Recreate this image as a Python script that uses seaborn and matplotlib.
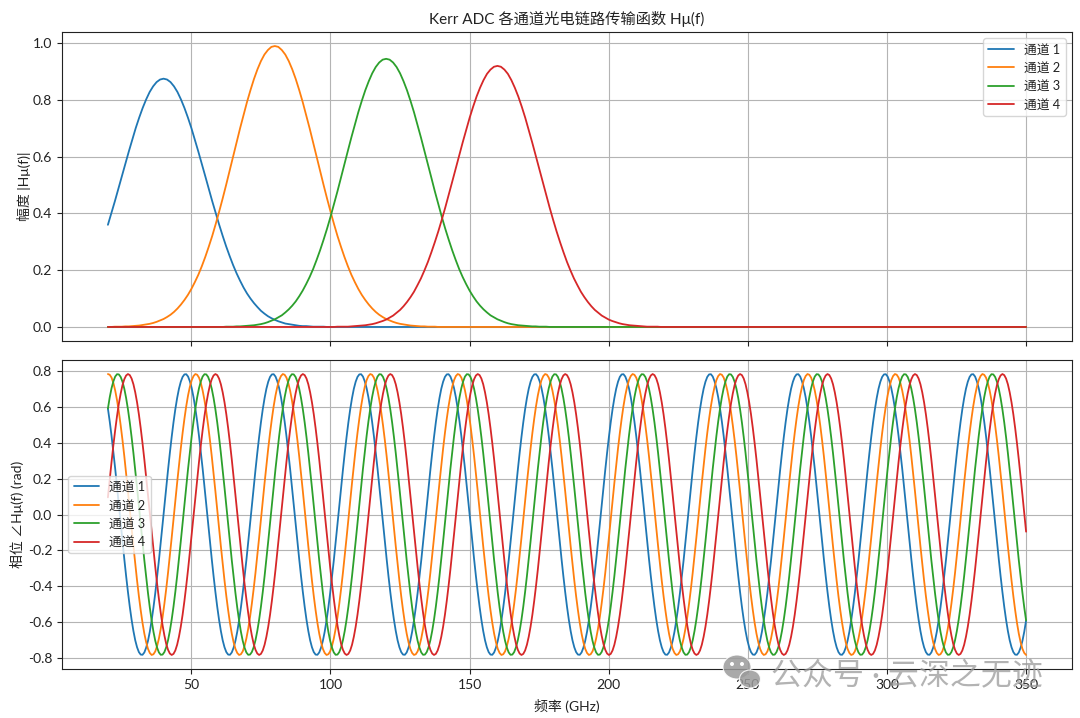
import numpy as np
import pandas as pd
import matplotlib
matplotlib.use("Agg")
import matplotlib.pyplot as plt
from matplotlib.patches import Ellipse
from matplotlib.transforms import IdentityTransform
import seaborn as sns

CHANNELS = ["通道 1", "通道 2", "通道 3", "通道 4"]
TITLE = "Kerr ADC 各通道光电链路传输函数 Hμ(f)"
YLABEL_TOP = "幅度 |Hμ(f)|"
YLABEL_BOTTOM = "相位 ∠Hμ(f) (rad)"
XLABEL = "频率 (GHz)"
WATERMARK = "公众号 · 云深之无迹"

amp_freq = np.linspace(20, 350, 265)
amp_1 = [.360,.401,.443,.487,.531,.575,.618,.660,.701,.738,.772,.802,.828,.848,.863,.872,.875,
 .872,.863,.848,.828,.802,.772,.738,.701,.660,.618,.575,.531,.487,.443,.401,.360,.321,.284,.250,.218,.189,.163,.139,.118,.100,.084,.070,.057,.047,.038,.031,.025,.020,.016,.012,.010,.008,.006,.004,.003,.003,.002,.001,.001,.001,.001,0,0] + [0.0] * 200
amp_2 = [0,0,.001,.001,.001,.002,.002,.003,.004,.005,.007,.009,.011,.014,.018,.023,.028,.035,.043,.053,.065,.079,.095,.113,.134,.158,.184,.214,.247,.283,.321,.363,.407,.453,.501,.551,.600,.650,.700,.747,.793,.835,.874,.908,.937,.960,.976,.987,.990,
 .987,.976,.960,.937,.908,.874,.835,.793,.747,.700,.650,.600,.551,.501,.453,.407,.363,.321,.283,.247,.214,.184,.158,.134,.113,.095,.079,.065,.053,.043,.035,.028,.023,.018,.014,.011,.009,.007,.005,.004,.003,.002,.002,.001,.001,.001,0,0] + [0.0] * 168
amp_3 = [0.0] * 32 + [0,0,.001,.001,.001,.002,.002,.003,.004,.005,.006,.008,.010,.013,.017,.022,.027,.034,.041,.051,.062,.075,.090,.108,.128,.151,.176,.204,.236,.270,.307,.346,.388,.433,.478,.526,.573,.621,.668,.713,.757,.797,.834,.866,.894,.916,.932,.942,.945,
 .942,.932,.916,.894,.866,.834,.797,.757,.713,.668,.621,.573,.526,.478,.433,.388,.346,.307,.270,.236,.204,.176,.151,.128,.108,.090,.075,.062,.051,.041,.034,.027,.022,.017,.013,.010,.008,.006,.005,.004,.003,.002,.002,.001,.001,.001,0,0] + [0.0] * 136
amp_4 = [0.0] * 64 + [0,0,.001,.001,.001,.001,.002,.003,.004,.005,.006,.008,.010,.013,.017,.021,.026,.033,.040,.050,.060,.073,.088,.105,.124,.147,.171,.199,.229,.263,.299,.337,.378,.421,.466,.512,.558,.604,.650,.694,.737,.776,.812,.843,.870,.892,.907,.917,.920,
 .917,.907,.892,.870,.843,.812,.776,.737,.694,.650,.604,.558,.512,.466,.421,.378,.337,.299,.263,.229,.199,.171,.147,.124,.105,.088,.073,.060,.050,.040,.033,.026,.021,.017,.013,.010,.008,.006,.005,.004,.003,.002,.001,.001,.001,.001,0,0] + [0.0] * 104

phase_freq = np.linspace(20, 350, 505)
phase_1 = [
 .592,.520,.439,.350,.256,.157,.055,-.048,-.150,-.249,-.344,-.433,-.515,-.588,-.651,-.703,-.742,-.769,-.783,-.784,-.771,-.744,-.706,-.655,-.592,-.520,-.439,-.350,-.256,-.157,-.055,.048,.150,.249,.344,.433,.515,.588,.651,.703,.742,.769,.783,.784,.771,.744,.706,.655,
 .592,.520,.439,.350,.256,.157,.055,-.048,-.150,-.249,-.344,-.433,-.515,-.588,-.651,-.703,-.742,-.769,-.783,-.784,-.771,-.744,-.706,-.655,-.592,-.520,-.439,-.350,-.256,-.157,-.055,.048,.150,.249,.344,.433,.515,.588,.651,.703,.742,.769,.783,.784,.771,.744,.706,.655,
 .592,.520,.439,.350,.256,.157,.055,-.048,-.150,-.249,-.344,-.433,-.515,-.588,-.651,-.703,-.742,-.769,-.783,-.784,-.771,-.744,-.706,-.655,-.592,-.520,-.439,-.350,-.256,-.157,-.055,.048,.150,.249,.344,.433,.515,.588,.651,.703,.742,.769,.783,.784,.771,.744,.706,.655,
 .592,.520,.439,.350,.256,.157,.055,-.048,-.150,-.249,-.344,-.433,-.515,-.588,-.651,-.703,-.742,-.769,-.783,-.784,-.771,-.744,-.706,-.655,-.592,-.520,-.439,-.350,-.256,-.157,-.055,.048,.150,.249,.344,.433,.515,.588,.651,.703,.742,.769,.783,.784,.771,.744,.706,.655,
 .592,.520,.439,.350,.256,.157,.055,-.048,-.150,-.249,-.344,-.433,-.515,-.588,-.651,-.703,-.742,-.769,-.783,-.784,-.771,-.744,-.706,-.655,-.592,-.520,-.439,-.350,-.256,-.157,-.055,.048,.150,.249,.344,.433,.515,.588,.651,.703,.742,.769,.783,.784,.771,.744,.706,.655,
 .592,.520,.439,.350,.256,.157,.055,-.048,-.150,-.249,-.344,-.433,-.515,-.588,-.651,-.703,-.742,-.769,-.783,-.784,-.771,-.744,-.706,-.655,-.592,-.520,-.439,-.350,-.256,-.157,-.055,.048,.150,.249,.344,.433,.515,.588,.651,.703,.742,.769,.783,.784,.771,.744,.706,.655,
 .592,.520,.439,.350,.256,.157,.055,-.048,-.150,-.249,-.344,-.433,-.515,-.588,-.651,-.703,-.742,-.769,-.783,-.784,-.771,-.744,-.706,-.655,-.592,-.520,-.439,-.350,-.256,-.157,-.055,.048,.150,.249,.344,.433,.515,.588,.651,.703,.742,.769,.783,.784,.771,.744,.706,.655,
 .592,.520,.439,.350,.256,.157,.055,-.048,-.150,-.249,-.344,-.433,-.515,-.588,-.651,-.703,-.742,-.769,-.783,-.784,-.771,-.744,-.706,-.655,-.592,-.520,-.439,-.350,-.256,-.157,-.055,.048,.150,.249,.344,.433,.515,.588,.651,.703,.742,.769,.783,.784,.771,.744,.706,.655,
 .592,.520,.439,.350,.256,.157,.055,-.048,-.150,-.249,-.344,-.433,-.515,-.588,-.651,-.703,-.742,-.769,-.783,-.784,-.771,-.744,-.706,-.655,-.592,-.520,-.439,-.350,-.256,-.157,-.055,.048,.150,.249,.344,.433,.515,.588,.651,.703,.742,.769,.783,.784,.771,.744,.706,.655,
 .592,.520,.439,.350,.256,.157,.055,-.048,-.150,-.249,-.344,-.433,-.515,-.588,-.651,-.703,-.742,-.769,-.783,-.784,-.771,-.744,-.706,-.655,-.592,-.520,-.439,-.350,-.256,-.157,-.055,.048,.150,.249,.344,.433,.515,.588,.651,.703,.742,.769,.783,.784,.771,.744,.706,.655,
 .592,.520,.439,.350,.256,.157,.055,-.048,-.150,-.249,-.344,-.433,-.515,-.588,-.651,-.703,-.742,-.769,-.783,-.784,-.771,-.744,-.706,-.655,-.592]
phase_2 = [
 .785,.781,.765,.735,.693,.639,.574,.499,.416,.326,.230,.130,.027,-.075,-.177,-.275,-.369,-.456,-.535,-.606,-.666,-.714,-.751,-.774,-.785,-.781,-.765,-.735,-.693,-.639,-.574,-.499,-.416,-.326,-.230,-.130,-.027,.075,.177,.275,.369,.456,.535,.606,.666,.714,.751,.774,
 .785,.781,.765,.735,.693,.639,.574,.499,.416,.326,.230,.130,.027,-.075,-.177,-.275,-.369,-.456,-.535,-.606,-.666,-.714,-.751,-.774,-.785,-.781,-.765,-.735,-.693,-.639,-.574,-.499,-.416,-.326,-.230,-.130,-.027,.075,.177,.275,.369,.456,.535,.606,.666,.714,.751,.774,
 .785,.781,.765,.735,.693,.639,.574,.499,.416,.326,.230,.130,.027,-.075,-.177,-.275,-.369,-.456,-.535,-.606,-.666,-.714,-.751,-.774,-.785,-.781,-.765,-.735,-.693,-.639,-.574,-.499,-.416,-.326,-.230,-.130,-.027,.075,.177,.275,.369,.456,.535,.606,.666,.714,.751,.774,
 .785,.781,.765,.735,.693,.639,.574,.499,.416,.326,.230,.130,.027,-.075,-.177,-.275,-.369,-.456,-.535,-.606,-.666,-.714,-.751,-.774,-.785,-.781,-.765,-.735,-.693,-.639,-.574,-.499,-.416,-.326,-.230,-.130,-.027,.075,.177,.275,.369,.456,.535,.606,.666,.714,.751,.774,
 .785,.781,.765,.735,.693,.639,.574,.499,.416,.326,.230,.130,.027,-.075,-.177,-.275,-.369,-.456,-.535,-.606,-.666,-.714,-.751,-.774,-.785,-.781,-.765,-.735,-.693,-.639,-.574,-.499,-.416,-.326,-.230,-.130,-.027,.075,.177,.275,.369,.456,.535,.606,.666,.714,.751,.774,
 .785,.781,.765,.735,.693,.639,.574,.499,.416,.326,.230,.130,.027,-.075,-.177,-.275,-.369,-.456,-.535,-.606,-.666,-.714,-.751,-.774,-.785,-.781,-.765,-.735,-.693,-.639,-.574,-.499,-.416,-.326,-.230,-.130,-.027,.075,.177,.275,.369,.456,.535,.606,.666,.714,.751,.774,
 .785,.781,.765,.735,.693,.639,.574,.499,.416,.326,.230,.130,.027,-.075,-.177,-.275,-.369,-.456,-.535,-.606,-.666,-.714,-.751,-.774,-.785,-.781,-.765,-.735,-.693,-.639,-.574,-.499,-.416,-.326,-.230,-.130,-.027,.075,.177,.275,.369,.456,.535,.606,.666,.714,.751,.774,
 .785,.781,.765,.735,.693,.639,.574,.499,.416,.326,.230,.130,.027,-.075,-.177,-.275,-.369,-.456,-.535,-.606,-.666,-.714,-.751,-.774,-.785,-.781,-.765,-.735,-.693,-.639,-.574,-.499,-.416,-.326,-.230,-.130,-.027,.075,.177,.275,.369,.456,.535,.606,.666,.714,.751,.774,
 .785,.781,.765,.735,.693,.639,.574,.499,.416,.326,.230,.130,.027,-.075,-.177,-.275,-.369,-.456,-.535,-.606,-.666,-.714,-.751,-.774,-.785,-.781,-.765,-.735,-.693,-.639,-.574,-.499,-.416,-.326,-.230,-.130,-.027,.075,.177,.275,.369,.456,.535,.606,.666,.714,.751,.774,
 .785,.781,.765,.735,.693,.639,.574,.499,.416,.326,.230,.130,.027,-.075,-.177,-.275,-.369,-.456,-.535,-.606,-.666,-.714,-.751,-.774,-.785,-.781,-.765,-.735,-.693,-.639,-.574,-.499,-.416,-.326,-.230,-.130,-.027,.075,.177,.275,.369,.456,.535,.606,.666,.714,.751,.774,
 .785,.781,.765,.735,.693,.639,.574,.499,.416,.326,.230,.130,.027,-.075,-.177,-.275,-.369,-.456,-.535,-.606,-.666,-.714,-.751,-.774,-.785]
phase_3 = [
 .592,.655,.706,.744,.771,.784,.783,.769,.742,.703,.651,.588,.515,.433,.344,.249,.150,.048,-.055,-.157,-.256,-.350,-.439,-.520,-.592,-.655,-.706,-.744,-.771,-.784,-.783,-.769,-.742,-.703,-.651,-.588,-.515,-.433,-.344,-.249,-.150,-.048,.055,.157,.256,.350,.439,.520,
 .592,.655,.706,.744,.771,.784,.783,.769,.742,.703,.651,.588,.515,.433,.344,.249,.150,.048,-.055,-.157,-.256,-.350,-.439,-.520,-.592,-.655,-.706,-.744,-.771,-.784,-.783,-.769,-.742,-.703,-.651,-.588,-.515,-.433,-.344,-.249,-.150,-.048,.055,.157,.256,.350,.439,.520,
 .592,.655,.706,.744,.771,.784,.783,.769,.742,.703,.651,.588,.515,.433,.344,.249,.150,.048,-.055,-.157,-.256,-.350,-.439,-.520,-.592,-.655,-.706,-.744,-.771,-.784,-.783,-.769,-.742,-.703,-.651,-.588,-.515,-.433,-.344,-.249,-.150,-.048,.055,.157,.256,.350,.439,.520,
 .592,.655,.706,.744,.771,.784,.783,.769,.742,.703,.651,.588,.515,.433,.344,.249,.150,.048,-.055,-.157,-.256,-.350,-.439,-.520,-.592,-.655,-.706,-.744,-.771,-.784,-.783,-.769,-.742,-.703,-.651,-.588,-.515,-.433,-.344,-.249,-.150,-.048,.055,.157,.256,.350,.439,.520,
 .592,.655,.706,.744,.771,.784,.783,.769,.742,.703,.651,.588,.515,.433,.344,.249,.150,.048,-.055,-.157,-.256,-.350,-.439,-.520,-.592,-.655,-.706,-.744,-.771,-.784,-.783,-.769,-.742,-.703,-.651,-.588,-.515,-.433,-.344,-.249,-.150,-.048,.055,.157,.256,.350,.439,.520,
 .592,.655,.706,.744,.771,.784,.783,.769,.742,.703,.651,.588,.515,.433,.344,.249,.150,.048,-.055,-.157,-.256,-.350,-.439,-.520,-.592,-.655,-.706,-.744,-.771,-.784,-.783,-.769,-.742,-.703,-.651,-.588,-.515,-.433,-.344,-.249,-.150,-.048,.055,.157,.256,.350,.439,.520,
 .592,.655,.706,.744,.771,.784,.783,.769,.742,.703,.651,.588,.515,.433,.344,.249,.150,.048,-.055,-.157,-.256,-.350,-.439,-.520,-.592,-.655,-.706,-.744,-.771,-.784,-.783,-.769,-.742,-.703,-.651,-.588,-.515,-.433,-.344,-.249,-.150,-.048,.055,.157,.256,.350,.439,.520,
 .592,.655,.706,.744,.771,.784,.783,.769,.742,.703,.651,.588,.515,.433,.344,.249,.150,.048,-.055,-.157,-.256,-.350,-.439,-.520,-.592,-.655,-.706,-.744,-.771,-.784,-.783,-.769,-.742,-.703,-.651,-.588,-.515,-.433,-.344,-.249,-.150,-.048,.055,.157,.256,.350,.439,.520,
 .592,.655,.706,.744,.771,.784,.783,.769,.742,.703,.651,.588,.515,.433,.344,.249,.150,.048,-.055,-.157,-.256,-.350,-.439,-.520,-.592,-.655,-.706,-.744,-.771,-.784,-.783,-.769,-.742,-.703,-.651,-.588,-.515,-.433,-.344,-.249,-.150,-.048,.055,.157,.256,.350,.439,.520,
 .592,.655,.706,.744,.771,.784,.783,.769,.742,.703,.651,.588,.515,.433,.344,.249,.150,.048,-.055,-.157,-.256,-.350,-.439,-.520,-.592,-.655,-.706,-.744,-.771,-.784,-.783,-.769,-.742,-.703,-.651,-.588,-.515,-.433,-.344,-.249,-.150,-.048,.055,.157,.256,.350,.439,.520,
 .592,.655,.706,.744,.771,.784,.783,.769,.742,.703,.651,.588,.515,.433,.344,.249,.150,.048,-.055,-.157,-.256,-.350,-.439,-.520,-.592]
phase_4 = [
 .096,.197,.294,.387,.472,.550,.619,.676,.723,.756,.777,.785,.779,.760,.728,.683,.627,.560,.483,.398,.307,.210,.109,.007,-.096,-.197,-.294,-.387,-.472,-.550,-.619,-.676,-.723,-.756,-.777,-.785,-.779,-.760,-.728,-.683,-.627,-.560,-.483,-.398,-.307,-.210,-.109,-.007,
 .096,.197,.294,.387,.472,.550,.619,.676,.723,.756,.777,.785,.779,.760,.728,.683,.627,.560,.483,.398,.307,.210,.109,.007,-.096,-.197,-.294,-.387,-.472,-.550,-.619,-.676,-.723,-.756,-.777,-.785,-.779,-.760,-.728,-.683,-.627,-.560,-.483,-.398,-.307,-.210,-.109,-.007,
 .096,.197,.294,.387,.472,.550,.619,.676,.723,.756,.777,.785,.779,.760,.728,.683,.627,.560,.483,.398,.307,.210,.109,.007,-.096,-.197,-.294,-.387,-.472,-.550,-.619,-.676,-.723,-.756,-.777,-.785,-.779,-.760,-.728,-.683,-.627,-.560,-.483,-.398,-.307,-.210,-.109,-.007,
 .096,.197,.294,.387,.472,.550,.619,.676,.723,.756,.777,.785,.779,.760,.728,.683,.627,.560,.483,.398,.307,.210,.109,.007,-.096,-.197,-.294,-.387,-.472,-.550,-.619,-.676,-.723,-.756,-.777,-.785,-.779,-.760,-.728,-.683,-.627,-.560,-.483,-.398,-.307,-.210,-.109,-.007,
 .096,.197,.294,.387,.472,.550,.619,.676,.723,.756,.777,.785,.779,.760,.728,.683,.627,.560,.483,.398,.307,.210,.109,.007,-.096,-.197,-.294,-.387,-.472,-.550,-.619,-.676,-.723,-.756,-.777,-.785,-.779,-.760,-.728,-.683,-.627,-.560,-.483,-.398,-.307,-.210,-.109,-.007,
 .096,.197,.294,.387,.472,.550,.619,.676,.723,.756,.777,.785,.779,.760,.728,.683,.627,.560,.483,.398,.307,.210,.109,.007,-.096,-.197,-.294,-.387,-.472,-.550,-.619,-.676,-.723,-.756,-.777,-.785,-.779,-.760,-.728,-.683,-.627,-.560,-.483,-.398,-.307,-.210,-.109,-.007,
 .096,.197,.294,.387,.472,.550,.619,.676,.723,.756,.777,.785,.779,.760,.728,.683,.627,.560,.483,.398,.307,.210,.109,.007,-.096,-.197,-.294,-.387,-.472,-.550,-.619,-.676,-.723,-.756,-.777,-.785,-.779,-.760,-.728,-.683,-.627,-.560,-.483,-.398,-.307,-.210,-.109,-.007,
 .096,.197,.294,.387,.472,.550,.619,.676,.723,.756,.777,.785,.779,.760,.728,.683,.627,.560,.483,.398,.307,.210,.109,.007,-.096,-.197,-.294,-.387,-.472,-.550,-.619,-.676,-.723,-.756,-.777,-.785,-.779,-.760,-.728,-.683,-.627,-.560,-.483,-.398,-.307,-.210,-.109,-.007,
 .096,.197,.294,.387,.472,.550,.619,.676,.723,.756,.777,.785,.779,.760,.728,.683,.627,.560,.483,.398,.307,.210,.109,.007,-.096,-.197,-.294,-.387,-.472,-.550,-.619,-.676,-.723,-.756,-.777,-.785,-.779,-.760,-.728,-.683,-.627,-.560,-.483,-.398,-.307,-.210,-.109,-.007,
 .096,.197,.294,.387,.472,.550,.619,.676,.723,.756,.777,.785,.779,.760,.728,.683,.627,.560,.483,.398,.307,.210,.109,.007,-.096,-.197,-.294,-.387,-.472,-.550,-.619,-.676,-.723,-.756,-.777,-.785,-.779,-.760,-.728,-.683,-.627,-.560,-.483,-.398,-.307,-.210,-.109,-.007,
 .096,.197,.294,.387,.472,.550,.619,.676,.723,.756,.777,.785,.779,.760,.728,.683,.627,.560,.483,.398,.307,.210,.109,.007,-.096]


def long_table(freq, series):
    return pd.concat(
        [pd.DataFrame({"f": freq, "v": vals, "ch": name}) for name, vals in zip(CHANNELS, series)],
        ignore_index=True,
    )


sns.set_theme(style="ticks", rc={"axes.grid": True, "grid.color": "#b4b4b4", "grid.linewidth": 0.8,
                                 "axes.edgecolor": "#222222", "axes.linewidth": 0.8,
                                 "xtick.color": "#222222", "ytick.color": "#222222",
                                 "xtick.major.size": 3.5, "ytick.major.size": 3.5,
                                 "xtick.major.width": 0.8, "ytick.major.width": 0.8,
                                 "text.color": "#222222", "axes.labelcolor": "#222222",
                                 "xtick.labelsize": 10, "ytick.labelsize": 10,
                                 "axes.labelsize": 10, "axes.titlesize": 11, "legend.fontsize": 9.2})
plt.rcParams["font.family"] = ["Lato", "Noto Sans CJK SC", "DejaVu Sans"]
plt.rcParams["axes.unicode_minus"] = False

W, H = 1080, 718
fig = plt.figure(figsize=(W / 100, H / 100), dpi=100)
ax1 = fig.add_axes([62 / W, 1 - 341 / H, (1072 - 62) / W, (341 - 32) / H])
ax2 = fig.add_axes([62 / W, 1 - 669 / H, (1072 - 62) / W, (669 - 360) / H], sharex=ax1)

palette = sns.color_palette("tab10", 4)
sns.lineplot(data=long_table(amp_freq, [amp_1, amp_2, amp_3, amp_4]), x="f", y="v", hue="ch",
             palette=palette, estimator=None, errorbar=None, linewidth=1.3, ax=ax1)
sns.lineplot(data=long_table(phase_freq, [phase_1, phase_2, phase_3, phase_4]), x="f", y="v", hue="ch",
             palette=palette, estimator=None, errorbar=None, linewidth=1.3, ax=ax2)

ax1.set_title(TITLE, pad=6)
ax1.set_xlabel("")
ax1.set_ylabel(YLABEL_TOP)
ax1.tick_params(labelbottom=False)
ax2.set_xlabel(XLABEL)
ax2.set_ylabel(YLABEL_BOTTOM)
ax1.yaxis.set_label_coords(-0.031, 0.5)
ax2.yaxis.set_label_coords(-0.0375, 0.5)
ax2.xaxis.set_label_coords(0.5, -0.098)
ax1.set_xlim(3.5, 366.5)
ax1.set_ylim(-0.0495, 1.0395)
ax2.set_ylim(-0.8635, 0.8635)
ax1.set_xticks([50, 100, 150, 200, 250, 300, 350])
ax2.set_yticks([-0.8, -0.6, -0.4, -0.2, 0.0, 0.2, 0.4, 0.6, 0.8])
sns.move_legend(ax1, "upper right", title=None)
sns.move_legend(ax2, "center left", title=None)

fig.text(771 / W, 1 - 685 / H, WATERMARK, fontsize=22.3, color="#9a9a9a", alpha=0.75, zorder=10)
idt = IdentityTransform()
for cx, cy, ww, hh in [(737, 667, 28, 24), (750, 679, 21, 18)]:
    fig.add_artist(Ellipse((cx, H - cy), ww, hh, transform=idt, facecolor="#9a9a9a", alpha=0.85,
                           edgecolor="white", linewidth=0.8, zorder=10))
for cx, cy in [(732, 664), (742, 664)]:
    fig.add_artist(Ellipse((cx, H - cy), 4, 4, transform=idt, facecolor="white", edgecolor="none", zorder=11))

fig.savefig("out.png", dpi=100)
